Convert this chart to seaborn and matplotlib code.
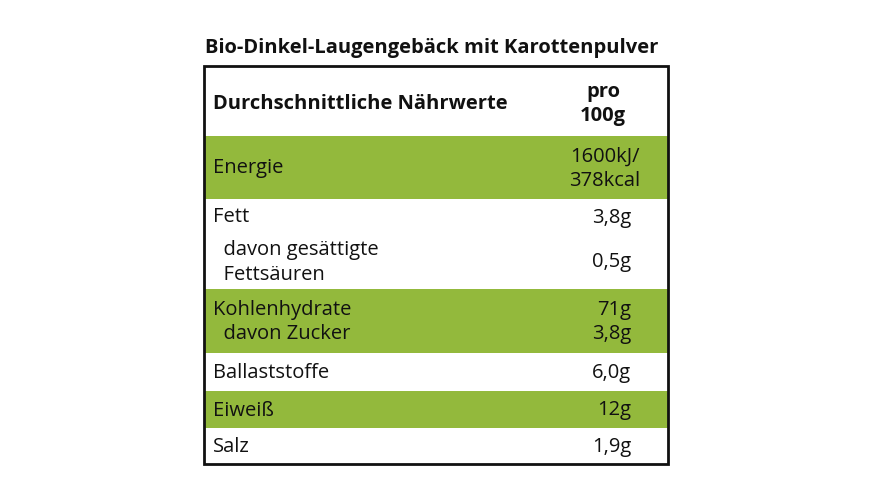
import matplotlib
matplotlib.use("Agg")
import matplotlib.pyplot as plt
import seaborn as sns

sns.set_theme(style="white")
plt.rcParams['font.family'] = ['Open Sans', 'DejaVu Sans']

title = "Bio-Dinkel-Laugengebäck mit Karottenpulver"
header_left = "Durchschnittliche Nährwerte"
header_right = "pro\n100g"
labels = ["Energie", "Fett", "  davon gesättigte\n  Fettsäuren", "Kohlenhydrate\n  davon Zucker",
          "Ballaststoffe", "Eiweiß", "Salz"]
values = ["1600kJ/\n378kcal", "3,8g", "0,5g", "71g\n3,8g", "6,0g", "12g", "1,9g"]
# row bands (top, bottom) in pixels and whether green
bands = [(137, 200, True), (200, 235, False), (235, 290, False), (290, 354, True),
         (354, 392, False), (392, 429, True), (429, 465, False)]

green = "#93b93c"
fs = 14.5
fig = plt.figure(figsize=(8.7, 4.89), dpi=100)
ax = fig.add_axes([0, 0, 1, 1])
ax.set_xlim(0, 870)
ax.set_ylim(489, 0)
ax.axis("off")

for (top, bot, g) in bands:
    if g:
        ax.barh((top + bot) / 2, 464, height=bot - top, left=204, color=green, linewidth=0)

ax.add_patch(plt.Rectangle((204, 67), 464, 398, fill=False, edgecolor="#111111", linewidth=2))

ax.text(432, 48, title, ha="center", va="center", fontsize=fs, fontweight="bold", color="#111111")
ax.text(213, 104, header_left, ha="left", va="center", fontsize=fs, fontweight="bold", color="#111111")
ax.text(603, 104, header_right, ha="center", va="center", fontsize=fs, fontweight="bold",
        color="#111111", linespacing=1.3)

for i, (lab, val, (top, bot, g)) in enumerate(zip(labels, values, bands)):
    y = (top + bot) / 2
    ax.text(213, y, lab, ha="left", va="center", fontsize=fs, color="#111111", linespacing=1.3)
    xr = 640 if i == 0 else 631
    ax.text(xr, y, val, ha="right", va="center", fontsize=fs, color="#111111",
            linespacing=1.3, multialignment="right")

fig.savefig("out.png", dpi=100)
